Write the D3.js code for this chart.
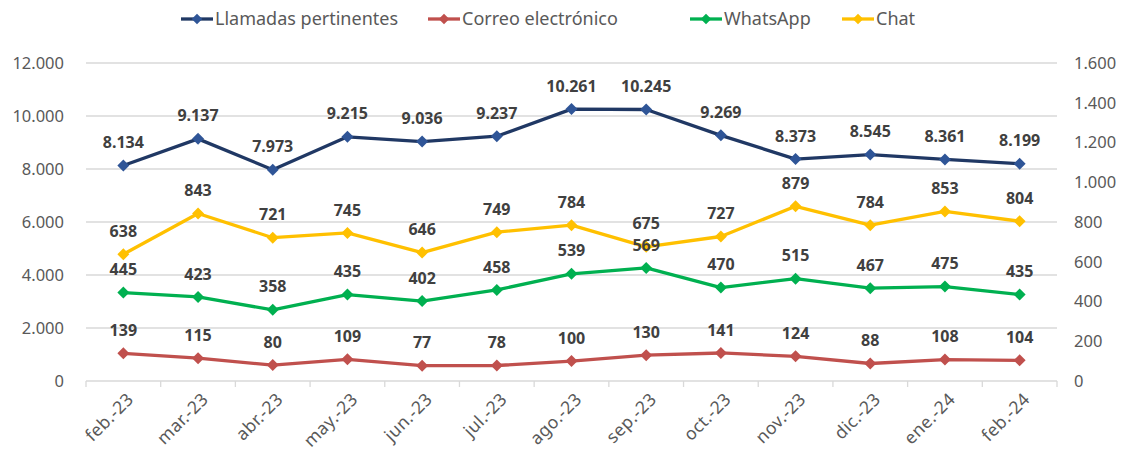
<!DOCTYPE html>
<html><head><meta charset="utf-8">
<script src="https://cdn.jsdelivr.net/npm/d3@7"></script>
<style>body{margin:0;background:#fff;} svg{display:block;font-family:"Noto Sans",Lato,sans-serif;}</style>
</head><body>
<svg id="c" width="1123" height="457"></svg>
<script>
const categories = ["feb.-23","mar.-23","abr.-23","may.-23","jun.-23","jul.-23","ago.-23","sep.-23","oct.-23","nov.-23","dic.-23","ene.-24","feb.-24"];
const llamadas = [8134,9137,7973,9215,9036,9237,10261,10245,9269,8373,8545,8361,8199];
const correo = [139,115,80,109,77,78,100,130,141,124,88,108,104];
const whatsapp = [445,423,358,435,402,458,539,569,470,515,467,475,435];
const chat = [638,843,721,745,646,749,784,675,727,879,784,853,804];
const leftTicks = [0,2000,4000,6000,8000,10000,12000];
const rightTicks = [0,200,400,600,800,1000,1200,1400,1600];

const loc = d3.formatLocale({decimal:",",thousands:".",grouping:[3],currency:["",""]});
const fmt = loc.format(",d");

const svg = d3.select("#c");
const m = {l:86, r:1057, t:63, b:381};
const x = d3.scaleBand().domain(categories).range([m.l, m.r]);
const yL = d3.scaleLinear().domain([0,12000]).range([m.b, m.t]);
const yR = d3.scaleLinear().domain([0,1600]).range([m.b, m.t]);

// gridlines
svg.append("g").selectAll("line").data(leftTicks.filter(d=>d>0)).join("line")
  .attr("x1", m.l).attr("x2", m.r).attr("y1", d=>yL(d)).attr("y2", d=>yL(d))
  .attr("stroke", "#d9d9d9").attr("stroke-width", 1.3);

// bottom axis
const xa = svg.append("g").attr("transform", `translate(0,${m.b})`);
xa.append("line").attr("x1", m.l).attr("x2", m.r).attr("stroke", "#d9d9d9").attr("stroke-width", 1.3);
const bounds = categories.map(c=>x(c)).concat([m.r]);
xa.selectAll("line.t").data(bounds).join("line").attr("class","t")
  .attr("x1", d=>d).attr("x2", d=>d).attr("y1", 0).attr("y2", 6)
  .attr("stroke", "#d9d9d9").attr("stroke-width", 1.3);
xa.selectAll("text").data(categories).join("text")
  .attr("transform", d=>`translate(${x(d)+x.bandwidth()/2+7},${15}) rotate(-45)`)
  .attr("text-anchor","end").attr("dy","0.35em")
  .attr("fill","#595959").attr("font-size",17.5).attr("letter-spacing",0.4).text(d=>d);

// left axis labels
svg.append("g").selectAll("text").data(leftTicks).join("text")
  .attr("x", 64).attr("y", d=>yL(d)).attr("dy","0.35em").attr("text-anchor","end")
  .attr("fill","#595959").attr("font-size",16.5).text(d=>fmt(d));
// right axis labels
svg.append("g").selectAll("text").data(rightTicks).join("text")
  .attr("x", 1074).attr("y", d=>yR(d)).attr("dy","0.35em").attr("text-anchor","start")
  .attr("fill","#595959").attr("font-size",16.5).text(d=>fmt(d));

const series = [
  {name:"Llamadas pertinentes", data:llamadas, y:yL, line:"#203864", mark:"#2F5597"},
  {name:"Correo electrónico", data:correo, y:yR, line:"#C0504D", mark:"#C0504D"},
  {name:"WhatsApp", data:whatsapp, y:yR, line:"#00B050", mark:"#00B050"},
  {name:"Chat", data:chat, y:yR, line:"#FFC000", mark:"#FFC000"}
];
const cx = c => x(c) + x.bandwidth()/2;

series.forEach(s=>{
  const g = svg.append("g");
  const line = d3.line().x((d,i)=>cx(categories[i])).y(d=>s.y(d));
  g.append("path").datum(s.data).attr("d", line).attr("fill","none")
    .attr("stroke", s.line).attr("stroke-width", 3.3).attr("stroke-linejoin","round");
  g.selectAll("path.m").data(s.data).join("path").attr("class","m")
    .attr("transform",(d,i)=>`translate(${cx(categories[i])},${s.y(d)}) rotate(45)`)
    .attr("d", d3.symbol().type(d3.symbolSquare).size(72)).attr("fill", s.mark);
});
series.forEach(s=>{
  svg.append("g").selectAll("text").data(s.data).join("text")
    .attr("x",(d,i)=>cx(categories[i])).attr("y", d=>s.y(d)-23).attr("dy","0.35em")
    .attr("text-anchor","middle").attr("font-weight","bold").attr("font-size",16)
    .attr("fill","#404040").text(d=>fmt(d));
});

// legend
const legX = [181, 428, 690, 842];
const lg = svg.append("g");
series.forEach((s,i)=>{
  const g = lg.append("g").attr("transform",`translate(${legX[i]},19)`);
  g.append("line").attr("x1",0).attr("x2",32).attr("stroke",s.line).attr("stroke-width",3.3);
  g.append("path").attr("transform","translate(16,0) rotate(45)")
    .attr("d", d3.symbol().type(d3.symbolSquare).size(56)).attr("fill", s.mark);
  g.append("text").attr("x",34).attr("dy","0.35em").attr("font-size",18)
    .attr("fill","#595959").text(s.name);
});
</script>
</body></html>
